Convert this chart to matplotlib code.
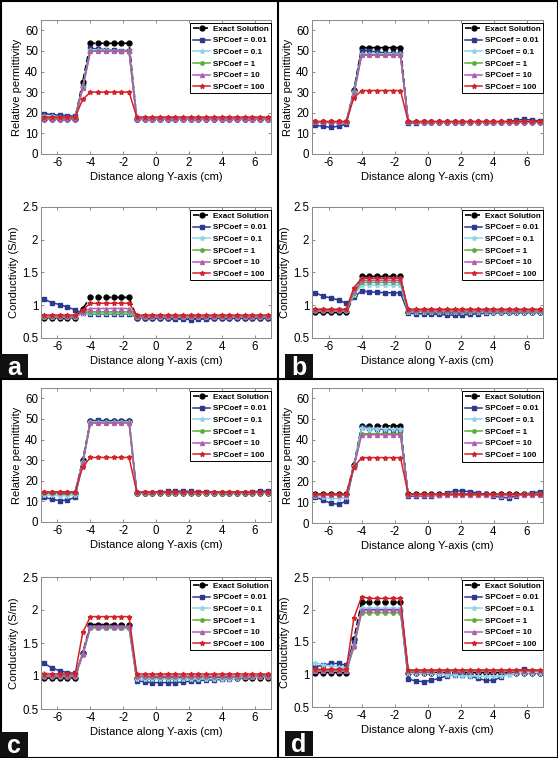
import numpy as np
import matplotlib.pyplot as plt
from matplotlib.patches import Rectangle
from matplotlib.lines import Line2D

plt.rcParams['font.family'] = ['Liberation Sans', 'DejaVu Sans']

# sample positions along the y-axis (cm)
x = [-6.80, -6.33, -5.86, -5.39, -4.92, -4.46, -3.99, -3.52, -3.05, -2.58,
     -2.11, -1.64, -1.17, -0.70, -0.23, 0.23, 0.70, 1.17, 1.64, 2.11,
     2.58, 3.05, 3.52, 3.99, 4.46, 4.92, 5.39, 5.86, 6.33, 6.80]

labels = ["Exact Solution", "SPCoef = 0.01", "SPCoef = 0.1", "SPCoef = 1",
          "SPCoef = 10", "SPCoef = 100"]

# ---- panel a ----
a_perm_exact = [17.2, 17.2, 17.2, 17.2, 17.2, 35.0, 53.7, 53.7, 53.7, 53.7, 53.7, 53.7,
                17.2, 17.2, 17.2, 17.2, 17.2, 17.2, 17.2, 17.2, 17.2, 17.2, 17.2, 17.2, 17.2, 17.2, 17.2, 17.2, 17.2, 17.2]
a_perm_001 = [19.6, 19.1, 18.8, 18.6, 18.3, 33.0, 51.2, 51.0, 50.6, 50.3, 50.2, 50.2,
              16.8, 16.9, 16.9, 17.0, 17.0, 17.0, 17.1, 17.0, 17.0, 17.0, 17.0, 17.0, 17.1, 17.0, 17.0, 17.0, 17.0, 17.0]
a_perm_01 = [18.4, 18.2, 18.1, 18.0, 17.8, 32.5, 50.6, 50.5, 50.3, 50.2, 50.1, 50.1,
             17.0, 17.0, 17.0, 17.0, 17.0, 17.0, 17.0, 17.0, 17.0, 17.0, 17.0, 17.0, 17.0, 17.0, 17.0, 17.0, 17.0, 17.0]
a_perm_1 = [17.4, 17.4, 17.4, 17.4, 17.4, 32.2, 50.0, 50.0, 50.0, 50.0, 50.0, 50.0,
            17.2, 17.2, 17.2, 17.2, 17.2, 17.2, 17.2, 17.2, 17.2, 17.2, 17.2, 17.2, 17.2, 17.2, 17.2, 17.2, 17.2, 17.2]
a_perm_10 = [16.8, 16.8, 16.8, 16.8, 16.8, 32.0, 49.8, 49.8, 49.8, 49.8, 49.8, 49.8,
             17.0, 17.0, 17.0, 17.0, 17.0, 17.0, 17.0, 17.0, 17.0, 17.0, 17.0, 17.0, 17.0, 17.0, 17.0, 17.0, 17.0, 17.0]
a_perm_100 = [17.9, 17.9, 17.9, 17.9, 17.9, 26.5, 30.0, 30.0, 30.0, 30.0, 30.0, 30.0,
              17.9, 17.9, 17.9, 17.9, 17.9, 17.9, 17.9, 17.9, 17.9, 17.9, 17.9, 17.9, 17.9, 17.9, 17.9, 17.9, 17.9, 17.9]

a_cond_exact = [0.81, 0.81, 0.81, 0.81, 0.81, 0.95, 1.12, 1.12, 1.12, 1.12, 1.12, 1.12,
                0.81, 0.81, 0.81, 0.81, 0.81, 0.81, 0.81, 0.81, 0.81, 0.81, 0.81, 0.81, 0.81, 0.81, 0.81, 0.81, 0.81, 0.81]
a_cond_001 = [1.09, 1.04, 1.01, 0.97, 0.93, 0.88, 0.87, 0.87, 0.87, 0.87, 0.87, 0.87,
              0.81, 0.81, 0.80, 0.80, 0.80, 0.79, 0.79, 0.78, 0.79, 0.79, 0.80, 0.80, 0.80, 0.80, 0.80, 0.80, 0.80, 0.80]
a_cond_01 = [0.82, 0.82, 0.82, 0.82, 0.82, 0.88, 0.88, 0.88, 0.88, 0.88, 0.88, 0.88,
             0.82, 0.82, 0.82, 0.82, 0.82, 0.82, 0.82, 0.82, 0.82, 0.82, 0.82, 0.82, 0.82, 0.82, 0.82, 0.82, 0.82, 0.82]
a_cond_1 = [0.82, 0.82, 0.82, 0.82, 0.82, 0.89, 0.90, 0.90, 0.90, 0.90, 0.90, 0.90,
            0.82, 0.82, 0.82, 0.82, 0.82, 0.82, 0.82, 0.82, 0.82, 0.82, 0.82, 0.82, 0.82, 0.82, 0.82, 0.82, 0.82, 0.82]
a_cond_10 = [0.83, 0.83, 0.83, 0.83, 0.83, 0.90, 0.95, 0.95, 0.95, 0.95, 0.95, 0.95,
             0.83, 0.83, 0.83, 0.83, 0.83, 0.83, 0.83, 0.83, 0.83, 0.83, 0.83, 0.83, 0.83, 0.83, 0.83, 0.83, 0.83, 0.83]
a_cond_100 = [0.85, 0.85, 0.85, 0.85, 0.85, 0.93, 1.03, 1.03, 1.03, 1.03, 1.03, 1.03,
              0.85, 0.85, 0.85, 0.85, 0.85, 0.85, 0.85, 0.85, 0.85, 0.85, 0.85, 0.85, 0.85, 0.85, 0.85, 0.85, 0.85, 0.85]

# ---- panel b ----
b_perm_exact = [15.5, 15.5, 15.5, 15.5, 15.5, 31.0, 51.6, 51.6, 51.6, 51.6, 51.6, 51.6,
                15.5, 15.5, 15.5, 15.5, 15.5, 15.5, 15.5, 15.5, 15.5, 15.5, 15.5, 15.5, 15.5, 15.5, 15.5, 15.5, 15.5, 15.5]
b_perm_001 = [14.0, 13.4, 12.9, 13.5, 14.4, 30.5, 50.2, 50.0, 49.5, 49.0, 48.8, 48.8,
              15.0, 15.2, 15.4, 15.5, 15.5, 15.5, 15.5, 15.5, 15.5, 15.5, 15.5, 15.5, 15.6, 15.8, 16.4, 16.8, 16.5, 16.0]
b_perm_01 = [15.3, 15.3, 15.3, 15.3, 15.3, 30.0, 48.6, 48.5, 48.5, 48.5, 48.5, 48.5,
             15.4, 15.4, 15.4, 15.4, 15.4, 15.4, 15.4, 15.4, 15.4, 15.4, 15.4, 15.4, 15.4, 15.4, 15.4, 15.4, 15.4, 15.4]
b_perm_1 = [15.5, 15.5, 15.5, 15.5, 15.5, 29.5, 48.2, 48.2, 48.2, 48.2, 48.2, 48.2,
            15.5, 15.5, 15.5, 15.5, 15.5, 15.5, 15.5, 15.5, 15.5, 15.5, 15.5, 15.5, 15.5, 15.5, 15.5, 15.5, 15.5, 15.5]
b_perm_10 = [15.6, 15.6, 15.6, 15.6, 15.6, 29.0, 47.9, 47.9, 47.9, 47.9, 47.9, 47.9,
             15.6, 15.6, 15.6, 15.6, 15.6, 15.6, 15.6, 15.6, 15.6, 15.6, 15.6, 15.6, 15.6, 15.6, 15.6, 15.6, 15.6, 15.6]
b_perm_100 = [15.8, 15.8, 15.8, 15.8, 15.8, 27.3, 30.8, 30.8, 30.8, 30.8, 30.8, 30.8,
              15.8, 15.8, 15.8, 15.8, 15.8, 15.8, 15.8, 15.8, 15.8, 15.8, 15.8, 15.8, 15.8, 15.8, 15.8, 15.8, 15.8, 15.8]

b_cond_exact = [0.89, 0.89, 0.89, 0.89, 0.89, 1.15, 1.44, 1.44, 1.44, 1.44, 1.44, 1.44,
                0.89, 0.89, 0.89, 0.89, 0.89, 0.89, 0.89, 0.89, 0.89, 0.89, 0.89, 0.89, 0.89, 0.89, 0.89, 0.89, 0.89, 0.89]
b_cond_001 = [1.19, 1.14, 1.11, 1.08, 1.03, 1.12, 1.22, 1.20, 1.20, 1.19, 1.19, 1.19,
              0.88, 0.87, 0.87, 0.86, 0.86, 0.85, 0.85, 0.85, 0.86, 0.87, 0.88, 0.89, 0.89, 0.89, 0.90, 0.90, 0.90, 0.90]
b_cond_01 = [0.95, 0.93, 0.93, 0.93, 0.93, 1.15, 1.31, 1.31, 1.31, 1.31, 1.31, 1.31,
             0.90, 0.90, 0.90, 0.90, 0.90, 0.90, 0.90, 0.90, 0.90, 0.90, 0.90, 0.90, 0.90, 0.90, 0.90, 0.90, 0.90, 0.90]
b_cond_1 = [0.91, 0.91, 0.91, 0.91, 0.91, 1.18, 1.35, 1.35, 1.35, 1.35, 1.35, 1.35,
            0.91, 0.91, 0.91, 0.91, 0.91, 0.91, 0.91, 0.91, 0.91, 0.91, 0.91, 0.91, 0.91, 0.91, 0.91, 0.91, 0.91, 0.91]
b_cond_10 = [0.92, 0.92, 0.92, 0.92, 0.92, 1.22, 1.38, 1.38, 1.38, 1.38, 1.38, 1.38,
             0.92, 0.92, 0.92, 0.92, 0.92, 0.92, 0.92, 0.92, 0.92, 0.92, 0.92, 0.92, 0.92, 0.92, 0.92, 0.92, 0.92, 0.92]
b_cond_100 = [0.94, 0.94, 0.94, 0.94, 0.94, 1.27, 1.41, 1.41, 1.41, 1.41, 1.41, 1.41,
              0.94, 0.94, 0.94, 0.94, 0.94, 0.94, 0.94, 0.94, 0.94, 0.94, 0.94, 0.94, 0.94, 0.94, 0.94, 0.94, 0.94, 0.94]

# ---- panel c ----
c_perm_exact = [14.3, 14.3, 14.3, 14.3, 14.3, 30.0, 49.1, 49.1, 49.1, 49.1, 49.1, 49.1,
                14.3, 14.3, 14.3, 14.3, 14.3, 14.3, 14.3, 14.3, 14.3, 14.3, 14.3, 14.3, 14.3, 14.3, 14.3, 14.3, 14.3, 14.3]
c_perm_001 = [12.0, 11.0, 10.4, 10.6, 12.0, 29.0, 49.0, 49.3, 49.0, 48.9, 49.0, 49.0,
              14.0, 14.2, 14.3, 14.6, 14.8, 14.9, 15.0, 14.8, 14.6, 14.4, 14.2, 14.0, 13.9, 14.0, 14.2, 14.6, 15.0, 15.0]
c_perm_01 = [13.2, 13.0, 12.8, 12.8, 13.2, 29.0, 48.6, 48.6, 48.5, 48.5, 48.5, 48.5,
             14.2, 14.2, 14.2, 14.2, 14.2, 14.2, 14.2, 14.2, 14.2, 14.2, 14.2, 14.2, 14.2, 14.2, 14.2, 14.2, 14.2, 14.2]
c_perm_1 = [14.3, 14.3, 14.3, 14.3, 14.3, 28.5, 48.2, 48.2, 48.2, 48.2, 48.2, 48.2,
            14.3, 14.3, 14.3, 14.3, 14.3, 14.3, 14.3, 14.3, 14.3, 14.3, 14.3, 14.3, 14.3, 14.3, 14.3, 14.3, 14.3, 14.3]
c_perm_10 = [14.4, 14.4, 14.4, 14.4, 14.4, 28.5, 48.0, 48.0, 48.0, 48.0, 48.0, 48.0,
             14.4, 14.4, 14.4, 14.4, 14.4, 14.4, 14.4, 14.4, 14.4, 14.4, 14.4, 14.4, 14.4, 14.4, 14.4, 14.4, 14.4, 14.4]
c_perm_100 = [14.6, 14.6, 14.6, 14.6, 14.6, 26.8, 31.3, 31.3, 31.3, 31.3, 31.3, 31.3,
              14.6, 14.6, 14.6, 14.6, 14.6, 14.6, 14.6, 14.6, 14.6, 14.6, 14.6, 14.6, 14.6, 14.6, 14.6, 14.6, 14.6, 14.6]

c_cond_exact = [0.97, 0.97, 0.97, 0.97, 0.97, 1.35, 1.78, 1.78, 1.78, 1.78, 1.78, 1.78,
                0.97, 0.97, 0.97, 0.97, 0.97, 0.97, 0.97, 0.97, 0.97, 0.97, 0.97, 0.97, 0.97, 0.97, 0.97, 0.97, 0.97, 0.97]
c_cond_001 = [1.19, 1.12, 1.08, 1.05, 1.04, 1.33, 1.75, 1.74, 1.74, 1.74, 1.74, 1.74,
              0.93, 0.91, 0.90, 0.90, 0.90, 0.90, 0.91, 0.92, 0.93, 0.94, 0.94, 0.95, 0.96, 0.97, 0.98, 0.99, 1.00, 1.01]
c_cond_01 = [1.05, 1.03, 1.02, 1.02, 1.02, 1.32, 1.72, 1.72, 1.72, 1.72, 1.72, 1.72,
             0.96, 0.96, 0.96, 0.96, 0.96, 0.96, 0.96, 0.96, 0.96, 0.96, 0.96, 0.96, 0.96, 0.97, 0.98, 0.98, 0.99, 0.99]
c_cond_1 = [0.99, 0.99, 0.99, 0.99, 0.99, 1.32, 1.73, 1.73, 1.73, 1.73, 1.73, 1.73,
            0.99, 0.99, 0.99, 0.99, 0.99, 0.99, 0.99, 0.99, 0.99, 0.99, 0.99, 0.99, 0.99, 0.99, 0.99, 0.99, 0.99, 0.99]
c_cond_10 = [1.00, 1.00, 1.00, 1.00, 1.00, 1.33, 1.75, 1.75, 1.75, 1.75, 1.75, 1.75,
             1.00, 1.00, 1.00, 1.00, 1.00, 1.00, 1.00, 1.00, 1.00, 1.00, 1.00, 1.00, 1.00, 1.00, 1.00, 1.00, 1.00, 1.00]
c_cond_100 = [1.03, 1.03, 1.03, 1.03, 1.03, 1.66, 1.90, 1.90, 1.90, 1.90, 1.90, 1.90,
              1.03, 1.03, 1.03, 1.03, 1.03, 1.03, 1.03, 1.03, 1.03, 1.03, 1.03, 1.03, 1.03, 1.03, 1.03, 1.03, 1.03, 1.03]

# ---- panel d ----
d_perm_exact = [13.8, 13.8, 13.8, 13.8, 13.8, 28.0, 46.8, 46.8, 46.8, 46.8, 46.8, 46.8,
                13.8, 13.8, 13.8, 13.8, 13.8, 13.8, 13.8, 13.8, 13.8, 13.8, 13.8, 13.8, 13.8, 13.8, 13.8, 13.8, 13.8, 13.8]
d_perm_001 = [12.6, 11.0, 9.5, 9.0, 10.5, 27.0, 46.0, 45.6, 45.2, 45.0, 45.0, 45.0,
              12.8, 13.0, 13.1, 13.2, 13.3, 14.5, 15.4, 15.5, 15.0, 14.5, 13.8, 13.0, 12.3, 12.2, 13.0, 13.8, 14.6, 15.0]
d_perm_01 = [12.8, 12.3, 11.8, 11.8, 12.3, 27.5, 45.6, 45.5, 45.5, 45.4, 45.4, 45.4,
             13.3, 13.3, 13.4, 13.4, 13.5, 13.8, 14.0, 14.0, 13.9, 13.8, 13.6, 13.4, 13.2, 13.2, 13.5, 13.8, 14.0, 14.2]
d_perm_1 = [13.5, 13.5, 13.5, 13.5, 13.5, 27.2, 43.0, 43.0, 43.0, 43.0, 43.0, 43.0,
            13.6, 13.6, 13.6, 13.6, 13.6, 13.6, 13.6, 13.6, 13.6, 13.6, 13.6, 13.6, 13.6, 13.6, 13.6, 13.6, 13.6, 13.6]
d_perm_10 = [13.6, 13.6, 13.6, 13.6, 13.6, 27.0, 42.5, 42.5, 42.5, 42.5, 42.5, 42.5,
             13.6, 13.6, 13.6, 13.6, 13.6, 13.6, 13.6, 13.6, 13.6, 13.6, 13.6, 13.6, 13.6, 13.6, 13.6, 13.6, 13.6, 13.6]
d_perm_100 = [13.9, 13.9, 13.9, 13.9, 13.9, 26.8, 31.5, 31.5, 31.5, 31.5, 31.5, 31.5,
              13.9, 13.9, 13.9, 13.9, 13.9, 13.9, 13.9, 13.9, 13.9, 13.9, 13.9, 13.9, 13.9, 13.9, 13.9, 13.9, 13.9, 13.9]

d_cond_exact = [1.03, 1.03, 1.03, 1.03, 1.03, 1.55, 2.11, 2.11, 2.11, 2.11, 2.11, 2.11,
                1.03, 1.03, 1.03, 1.03, 1.03, 1.03, 1.03, 1.03, 1.03, 1.03, 1.03, 1.03, 1.03, 1.03, 1.03, 1.03, 1.03, 1.03]
d_cond_001 = [1.12, 1.14, 1.17, 1.17, 1.14, 1.50, 2.01, 2.00, 2.00, 2.00, 2.00, 2.00,
              0.93, 0.90, 0.89, 0.91, 0.94, 0.98, 1.00, 1.00, 0.98, 0.94, 0.91, 0.91, 0.96, 1.02, 1.05, 1.09, 1.06, 1.03]
d_cond_01 = [1.18, 1.15, 1.13, 1.12, 1.10, 1.45, 2.02, 2.02, 2.02, 2.02, 2.02, 2.02,
             1.02, 1.02, 1.02, 1.02, 1.01, 1.00, 0.99, 0.98, 0.98, 0.98, 0.97, 0.97, 0.98, 1.00, 1.02, 1.03, 1.03, 1.03]
d_cond_1 = [1.05, 1.05, 1.05, 1.05, 1.05, 1.42, 1.95, 1.95, 1.95, 1.95, 1.95, 1.95,
            1.05, 1.05, 1.05, 1.05, 1.05, 1.05, 1.05, 1.05, 1.05, 1.05, 1.05, 1.05, 1.05, 1.05, 1.05, 1.05, 1.05, 1.05]
d_cond_10 = [1.06, 1.06, 1.06, 1.06, 1.06, 1.44, 1.99, 1.99, 1.99, 1.99, 1.99, 1.99,
             1.06, 1.06, 1.06, 1.06, 1.06, 1.06, 1.06, 1.06, 1.06, 1.06, 1.06, 1.06, 1.06, 1.06, 1.06, 1.06, 1.06, 1.06]
d_cond_100 = [1.08, 1.08, 1.08, 1.08, 1.08, 1.87, 2.20, 2.17, 2.17, 2.17, 2.17, 2.17,
              1.07, 1.07, 1.07, 1.07, 1.07, 1.07, 1.07, 1.07, 1.07, 1.07, 1.07, 1.07, 1.07, 1.07, 1.07, 1.07, 1.07, 1.07]

x_ticks = [-6, -4, -2, 0, 2, 4, 6]
perm_ticks = [0, 10, 20, 30, 40, 50, 60]
cond_ticks = [0.5, 1, 1.5, 2, 2.5]
cond_ticklabels = ["0.5", "1", "1.5", "2", "2.5"]

W, H = 558, 758
fig = plt.figure(figsize=(W / 100, H / 100), dpi=100)


def box(l, t, r, b):
    return [l / W, 1 - b / H, (r - l) / W, (b - t) / H]


def panel(rect, series, ylim, yticks, yticklabels, ylabel):
    ax = fig.add_axes(rect)
    ex, s001, s01, s1, s10, s100 = series
    ax.plot(x, ex, "--", color="black", marker="o", ms=3.5, lw=1.2, label=labels[0])
    ax.plot(x, s001, "-", color="#2b3990", marker="s", ms=2.3, lw=1.1, label=labels[1])
    ax.plot(x, s01, "-", color="#8cd3e3", marker="*", ms=3.5, lw=1.1, label=labels[2])
    ax.plot(x, s1, "-", color="#5fae3a", marker="o", ms=2.5, lw=1.1, label=labels[3])
    ax.plot(x, s10, "-", color="#b35bb3", marker="^", ms=2.8, lw=1.1, label=labels[4])
    ax.plot(x, s100, "-", color="#d2232a", marker="*", ms=3.5, lw=1.1, label=labels[5])
    ax.set_xlim(-7, 7)
    ax.set_ylim(*ylim)
    ax.set_xticks(x_ticks)
    ax.set_xticklabels([str(t) for t in x_ticks])
    ax.set_yticks(yticks)
    ax.set_yticklabels(yticklabels)
    ax.tick_params(direction="in", length=2.5, width=0.6, labelsize=8.3, top=True, right=True,
                   color="#777777", pad=2)
    for s in ax.spines.values():
        s.set_color("#888888")
        s.set_linewidth(0.7)
    ax.set_xlabel("Distance along Y-axis (cm)", fontsize=8, labelpad=2)
    ax.set_ylabel(ylabel, fontsize=8, labelpad=2)
    leg = ax.legend(loc="upper right", bbox_to_anchor=(1.0, 0.98), borderaxespad=0,
                    prop={"size": 5.8, "weight": "bold"}, fancybox=False, framealpha=1,
                    edgecolor="black", handlelength=2.2, handletextpad=0.3,
                    labelspacing=0.5, borderpad=0.3)
    leg.get_frame().set_linewidth(0.7)
    return ax


perm_ticklabels = [str(t) for t in perm_ticks]

panel(box(41, 20, 271, 154),
      [a_perm_exact, a_perm_001, a_perm_01, a_perm_1, a_perm_10, a_perm_100],
      (0, 65), perm_ticks, perm_ticklabels, "Relative permittivity")
panel(box(41, 207, 271, 338),
      [a_cond_exact, a_cond_001, a_cond_01, a_cond_1, a_cond_10, a_cond_100],
      (0.5, 2.5), cond_ticks, cond_ticklabels, "Conductivity (S/m)")
panel(box(312, 20, 543, 154),
      [b_perm_exact, b_perm_001, b_perm_01, b_perm_1, b_perm_10, b_perm_100],
      (0, 65), perm_ticks, perm_ticklabels, "Relative permittivity")
panel(box(312, 207, 543, 338),
      [b_cond_exact, b_cond_001, b_cond_01, b_cond_1, b_cond_10, b_cond_100],
      (0.5, 2.5), cond_ticks, cond_ticklabels, "Conductivity (S/m)")
panel(box(41, 388, 271, 522),
      [c_perm_exact, c_perm_001, c_perm_01, c_perm_1, c_perm_10, c_perm_100],
      (0, 65), perm_ticks, perm_ticklabels, "Relative permittivity")
panel(box(41, 577, 271, 709),
      [c_cond_exact, c_cond_001, c_cond_01, c_cond_1, c_cond_10, c_cond_100],
      (0.5, 2.5), cond_ticks, cond_ticklabels, "Conductivity (S/m)")
panel(box(312, 388, 543, 523),
      [d_perm_exact, d_perm_001, d_perm_01, d_perm_1, d_perm_10, d_perm_100],
      (0, 65), perm_ticks, perm_ticklabels, "Relative permittivity")
panel(box(312, 577, 543, 707),
      [d_cond_exact, d_cond_001, d_cond_01, d_cond_1, d_cond_10, d_cond_100],
      (0.5, 2.5), cond_ticks, cond_ticklabels, "Conductivity (S/m)")

# frame and separators
fig.add_artist(Rectangle((0.5 / W, 0.5 / H), 1 - 1 / W, 1 - 1 / H, transform=fig.transFigure,
                         fill=False, edgecolor="black", lw=1.5))
fig.add_artist(Line2D([278 / W, 278 / W], [0, 1], transform=fig.transFigure, color="black", lw=1.5))
fig.add_artist(Line2D([0, 1], [1 - 379 / H, 1 - 379 / H], transform=fig.transFigure, color="black", lw=1.5))

# panel letters
for letter, l, t in [("a", 0, 354), ("b", 285, 354), ("c", 0, 732), ("d", 285, 731)]:
    b = box(l, t, l + 28, t + 25)
    fig.add_artist(Rectangle((b[0], b[1]), b[2], b[3], transform=fig.transFigure,
                             facecolor="#111111", edgecolor="none"))
    fig.text(b[0] + b[2] / 2, b[1] + b[3] / 2 - 0.002, letter, color="white", fontsize=18,
             fontweight="bold", ha="center", va="center")

plt.savefig("out.png", dpi=100)
